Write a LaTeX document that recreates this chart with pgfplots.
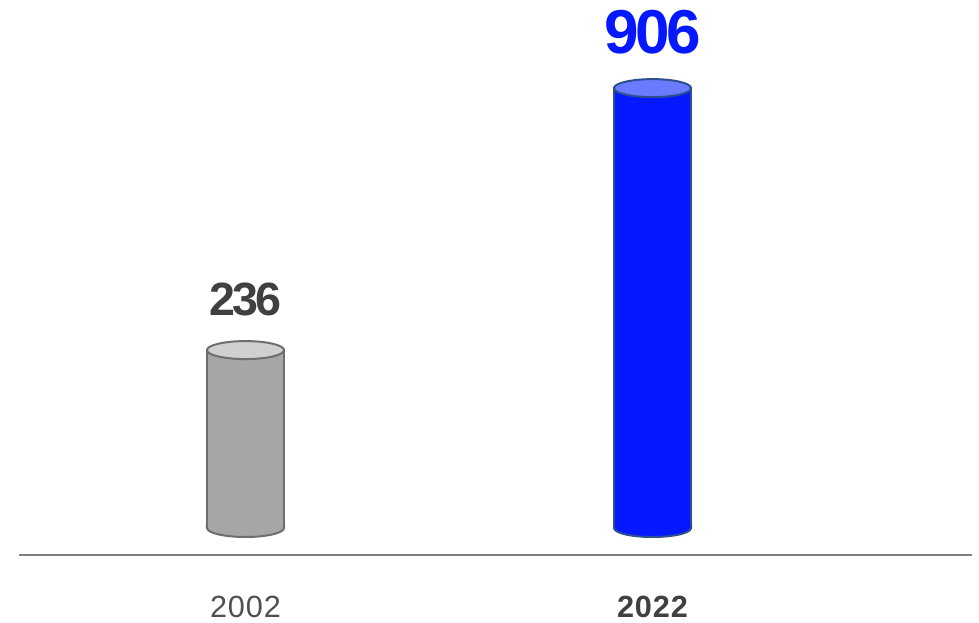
\documentclass[border=0pt]{standalone}
\usepackage{fontspec}
\setmainfont{Liberation Sans}
\usepackage{pgfplots}
\pgfplotsset{compat=1.18}

\definecolor{greyfill}{HTML}{A6A6A6}
\definecolor{greytop}{HTML}{D0D0D0}
\definecolor{greyline}{HTML}{6E6E6E}
\definecolor{bluefill}{HTML}{0618FF}
\definecolor{bluetop}{HTML}{6B7BFF}
\definecolor{blueline}{HTML}{2E4F8F}
\definecolor{axisgrey}{HTML}{808080}
\definecolor{darktext}{HTML}{404040}
\definecolor{midtext}{HTML}{505050}

% cylinder caps, 1px = 0.75pt, bar 77px wide
\pgfdeclareplotmark{topcap}{%
  \pgfpathellipse{\pgfpointorigin}{\pgfqpoint{28.875pt}{0pt}}{\pgfqpoint{0pt}{6.75pt}}%
  \pgfusepathqfillstroke}
\pgfdeclareplotmark{botcap}{%
  \pgfpathmoveto{\pgfqpoint{-28.875pt}{4pt}}%
  \pgfpathlineto{\pgfqpoint{-28.875pt}{0pt}}%
  \pgfpatharc{180}{360}{28.875pt and 6.75pt}%
  \pgfpathlineto{\pgfqpoint{28.875pt}{4pt}}%
  \pgfpathclose
  \pgfusepathqfill
  \pgfpathmoveto{\pgfqpoint{-28.875pt}{4pt}}%
  \pgfpathlineto{\pgfqpoint{-28.875pt}{0pt}}%
  \pgfpatharc{180}{360}{28.875pt and 6.75pt}%
  \pgfpathlineto{\pgfqpoint{28.875pt}{4pt}}%
  \pgfusepathqstroke}

\begin{document}
\begin{tikzpicture}
\begin{axis}[
  name=ax,
  scale only axis,
  width=714.75pt, height=416.25pt,
  xmin=-0.5565, xmax=1.785,
  ymin=-288, ymax=1131.4,
  y coord trafo/.code={\pgfmathparse{#1+219}},
  y coord inv trafo/.code={\pgfmathparse{#1-219}},
  axis y line=none,
  axis x line*=bottom,
  x axis line style={draw=axisgrey, line width=1.2pt, -},
  xtick={0,1},
  xticklabels={{\color{midtext}2002},{\bfseries\color{darktext}2022}},
  major tick length=0pt,
  xticklabel style={anchor=base, yshift=-47.25pt,
    font=\fontsize{23}{27}\selectfont\addfontfeatures{LetterSpace=3}},
  clip=false,
]

% 2002
\addplot[ybar, bar width=57.75pt, bar shift=0pt, fill=greyfill, draw=greyline, line width=1.5pt]
  coordinates {(0,236)};
\addplot[only marks, mark=botcap, mark options={fill=greyfill, draw=greyline, line width=1.5pt}]
  coordinates {(0,-219)};
\addplot[only marks, mark=topcap, mark options={fill=greytop, draw=greyline, line width=1.5pt},
  nodes near coords, point meta=explicit symbolic,
  every node near coord/.append style={anchor=base, yshift=26pt, text=darktext,
    font=\bfseries\fontsize{35}{40}\selectfont\addfontfeatures{LetterSpace=-6}}]
  coordinates {(0,236) [236]};

% 2022
\addplot[ybar, bar width=57.75pt, bar shift=0pt, fill=bluefill, draw=blueline, line width=1.5pt]
  coordinates {(1,906)};
\addplot[only marks, mark=botcap, mark options={fill=bluefill, draw=blueline, line width=1.5pt}]
  coordinates {(1,-219)};
\addplot[only marks, mark=topcap, mark options={fill=bluetop, draw=blueline, line width=1.5pt},
  nodes near coords, point meta=explicit symbolic,
  every node near coord/.append style={anchor=base, yshift=26pt, text=bluefill,
    font=\bfseries\fontsize{46.5}{52}\selectfont\addfontfeatures{LetterSpace=-6}}]
  coordinates {(1,906) [906]};

\end{axis}
\pgfresetboundingbox
\path[use as bounding box] ([shift={(-14.25pt,-51pt)}]ax.south west)
  rectangle ([shift={(5.25pt,0pt)}]ax.north east);
\end{tikzpicture}
\end{document}
